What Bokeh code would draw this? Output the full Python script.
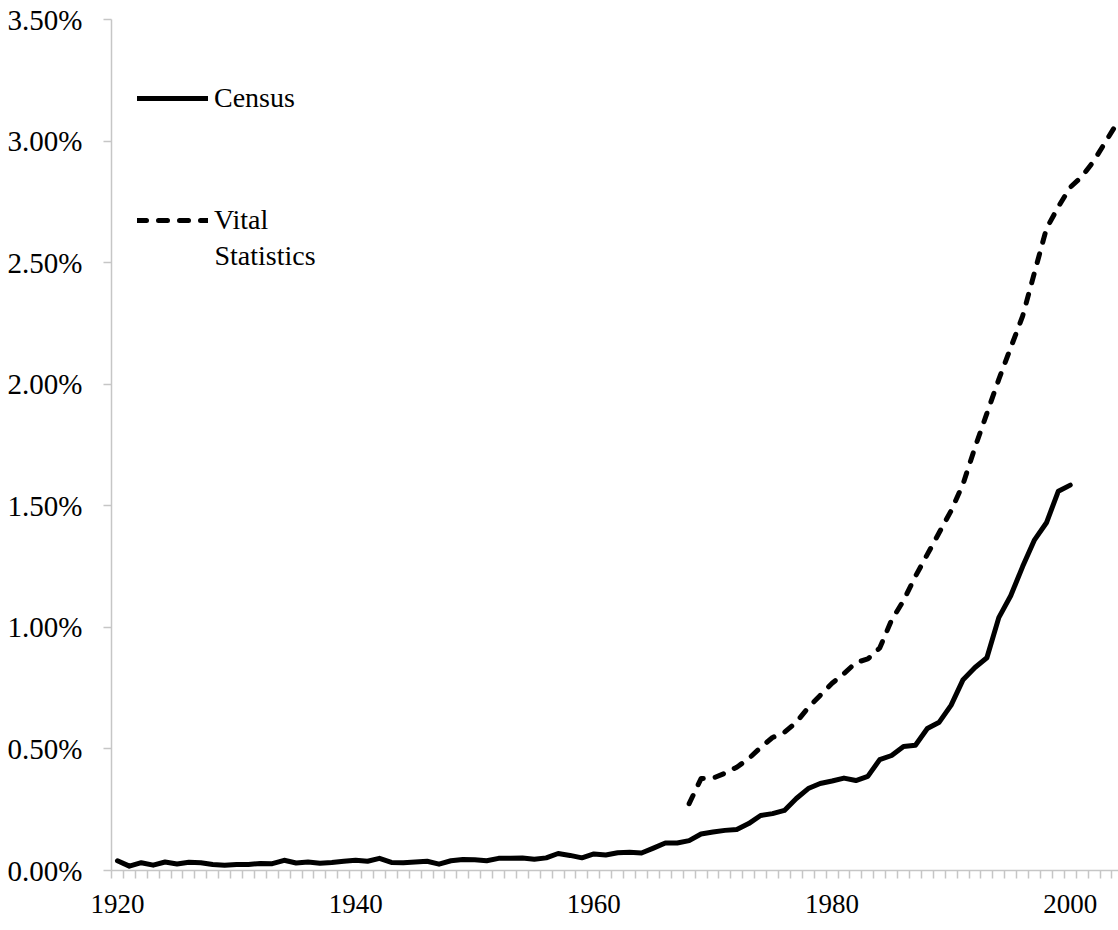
from bokeh.plotting import figure
from bokeh.models import (Range1d, FixedTicker, PrintfTickFormatter, Legend,
                          LegendItem, ColumnDataSource, Label)
from bokeh.embed import file_html
from bokeh.resources import INLINE

# ---- data (percent) ----
census_years = list(range(1920, 2001))
census_pct = [
    0.040, 0.018, 0.032, 0.022, 0.035, 0.027, 0.034, 0.032, 0.025, 0.022,  # 1920-29
    0.025, 0.025, 0.029, 0.028, 0.042, 0.031, 0.035, 0.030, 0.033, 0.038,  # 1930-39
    0.042, 0.038, 0.050, 0.033, 0.032, 0.035, 0.038, 0.026, 0.040, 0.045,  # 1940-49
    0.044, 0.040, 0.050, 0.050, 0.051, 0.046, 0.052, 0.070, 0.062, 0.052,  # 1950-59
    0.068, 0.064, 0.073, 0.075, 0.072, 0.092, 0.113, 0.113, 0.123, 0.150,  # 1960-69
    0.158, 0.165, 0.169, 0.193, 0.226, 0.234, 0.247, 0.296, 0.337, 0.358,  # 1970-79
    0.368, 0.380, 0.370, 0.387, 0.456, 0.473, 0.510, 0.515, 0.584, 0.610,  # 1980-89
    0.680, 0.785, 0.835, 0.875, 1.040, 1.130, 1.250, 1.360, 1.430, 1.560,  # 1990-99
    1.585,                                                                 # 2000
]

vital_years = list(range(1968, 2005))
vital_pct = [
    0.275, 0.378, 0.380, 0.400, 0.425, 0.460, 0.506, 0.547, 0.568, 0.610,  # 1968-77
    0.670, 0.720, 0.770, 0.810, 0.855, 0.870, 0.915, 1.030, 1.110, 1.210,  # 1978-87
    1.300, 1.390, 1.480, 1.590, 1.740, 1.880, 2.020, 2.150, 2.280, 2.460,  # 1988-97
    2.640, 2.730, 2.810, 2.855, 2.920, 3.000, 3.080,                       # 1998-2004
]

x_labels = [1920, 1940, 1960, 1980, 2000]
y_ticks = [0.0, 0.5, 1.0, 1.5, 2.0, 2.5, 3.0, 3.5]
series_names = ["Census", "Vital", "Statistics"]

FONT = "Liberation Serif"
AXIS_GRAY = "#c6c6c6"

p = figure(width=1118, height=930, output_backend="svg", toolbar_location=None,
           x_range=Range1d(1919.5, 2004.05), y_range=Range1d(0, 3.5),
           min_border_left=111, min_border_right=0, min_border_top=19,
           min_border_bottom=60)
p.outline_line_color = None
p.background_fill_color = "white"
p.border_fill_color = "white"

# grid: only the top line at 3.5%
p.xgrid.visible = False
p.ygrid.ticker = FixedTicker(ticks=[3.5])
p.ygrid.grid_line_color = "#e3e3e3"
p.ygrid.grid_line_width = 1.5

# x axis
bounds = [y - 0.5 for y in range(1920, 2006)]
p.xaxis.ticker = FixedTicker(ticks=x_labels, minor_ticks=bounds)
p.xaxis.major_tick_out = 0
p.xaxis.major_tick_in = 0
p.xaxis.minor_tick_out = 8
p.xaxis.minor_tick_in = 0
p.xaxis.minor_tick_line_color = AXIS_GRAY
p.xaxis.minor_tick_line_width = 1.5
p.xaxis.axis_line_color = AXIS_GRAY
p.xaxis.axis_line_width = 1.5
p.xaxis.major_label_standoff = 16
p.xaxis.major_label_text_font = FONT
p.xaxis.major_label_text_font_size = "27px"
p.xaxis.major_label_text_color = "black"

# y axis
p.yaxis.ticker = FixedTicker(ticks=y_ticks)
p.yaxis.formatter = PrintfTickFormatter(format="%.2f%%")
p.yaxis.major_tick_out = 8
p.yaxis.major_tick_in = 0
p.yaxis.minor_tick_out = 0
p.yaxis.minor_tick_in = 0
p.yaxis.major_tick_line_color = AXIS_GRAY
p.yaxis.major_tick_line_width = 1.5
p.yaxis.axis_line_color = AXIS_GRAY
p.yaxis.axis_line_width = 1.5
p.yaxis.major_label_standoff = 21
p.yaxis.major_label_text_font = FONT
p.yaxis.major_label_text_font_size = "29px"
p.yaxis.major_label_text_color = "black"

census_src = ColumnDataSource(dict(x=census_years, y=census_pct))
vital_src = ColumnDataSource(dict(x=vital_years, y=vital_pct))

r_census = p.line("x", "y", source=census_src, line_color="black", line_width=5,
                  line_join="round", line_cap="round")
r_vital = p.line("x", "y", source=vital_src, line_color="black", line_width=5,
                 line_dash="9 12", line_join="round", line_cap="round")

legend = Legend(items=[LegendItem(label=series_names[0], renderers=[r_census]),
                       LegendItem(label=series_names[1], renderers=[r_vital])],
                location=(26, 634), orientation="vertical")
legend.border_line_alpha = 0
legend.background_fill_alpha = 0
legend.padding = 0
legend.margin = 0
legend.glyph_width = 71
legend.glyph_height = 30
legend.label_standoff = 6
legend.spacing = 90
legend.label_text_font = FONT
legend.label_text_font_size = "28px"
legend.label_text_color = "black"
legend.label_height = 30
p.add_layout(legend, "center")

# second line of the "Vital Statistics" legend entry
p.add_layout(Label(x=103, y=615, x_units="screen", y_units="screen",
                   text=series_names[2], text_font=FONT, text_font_size="28px",
                   text_color="black", text_baseline="middle", text_align="left"))

open("out.html", "w").write(file_html(p, INLINE))
